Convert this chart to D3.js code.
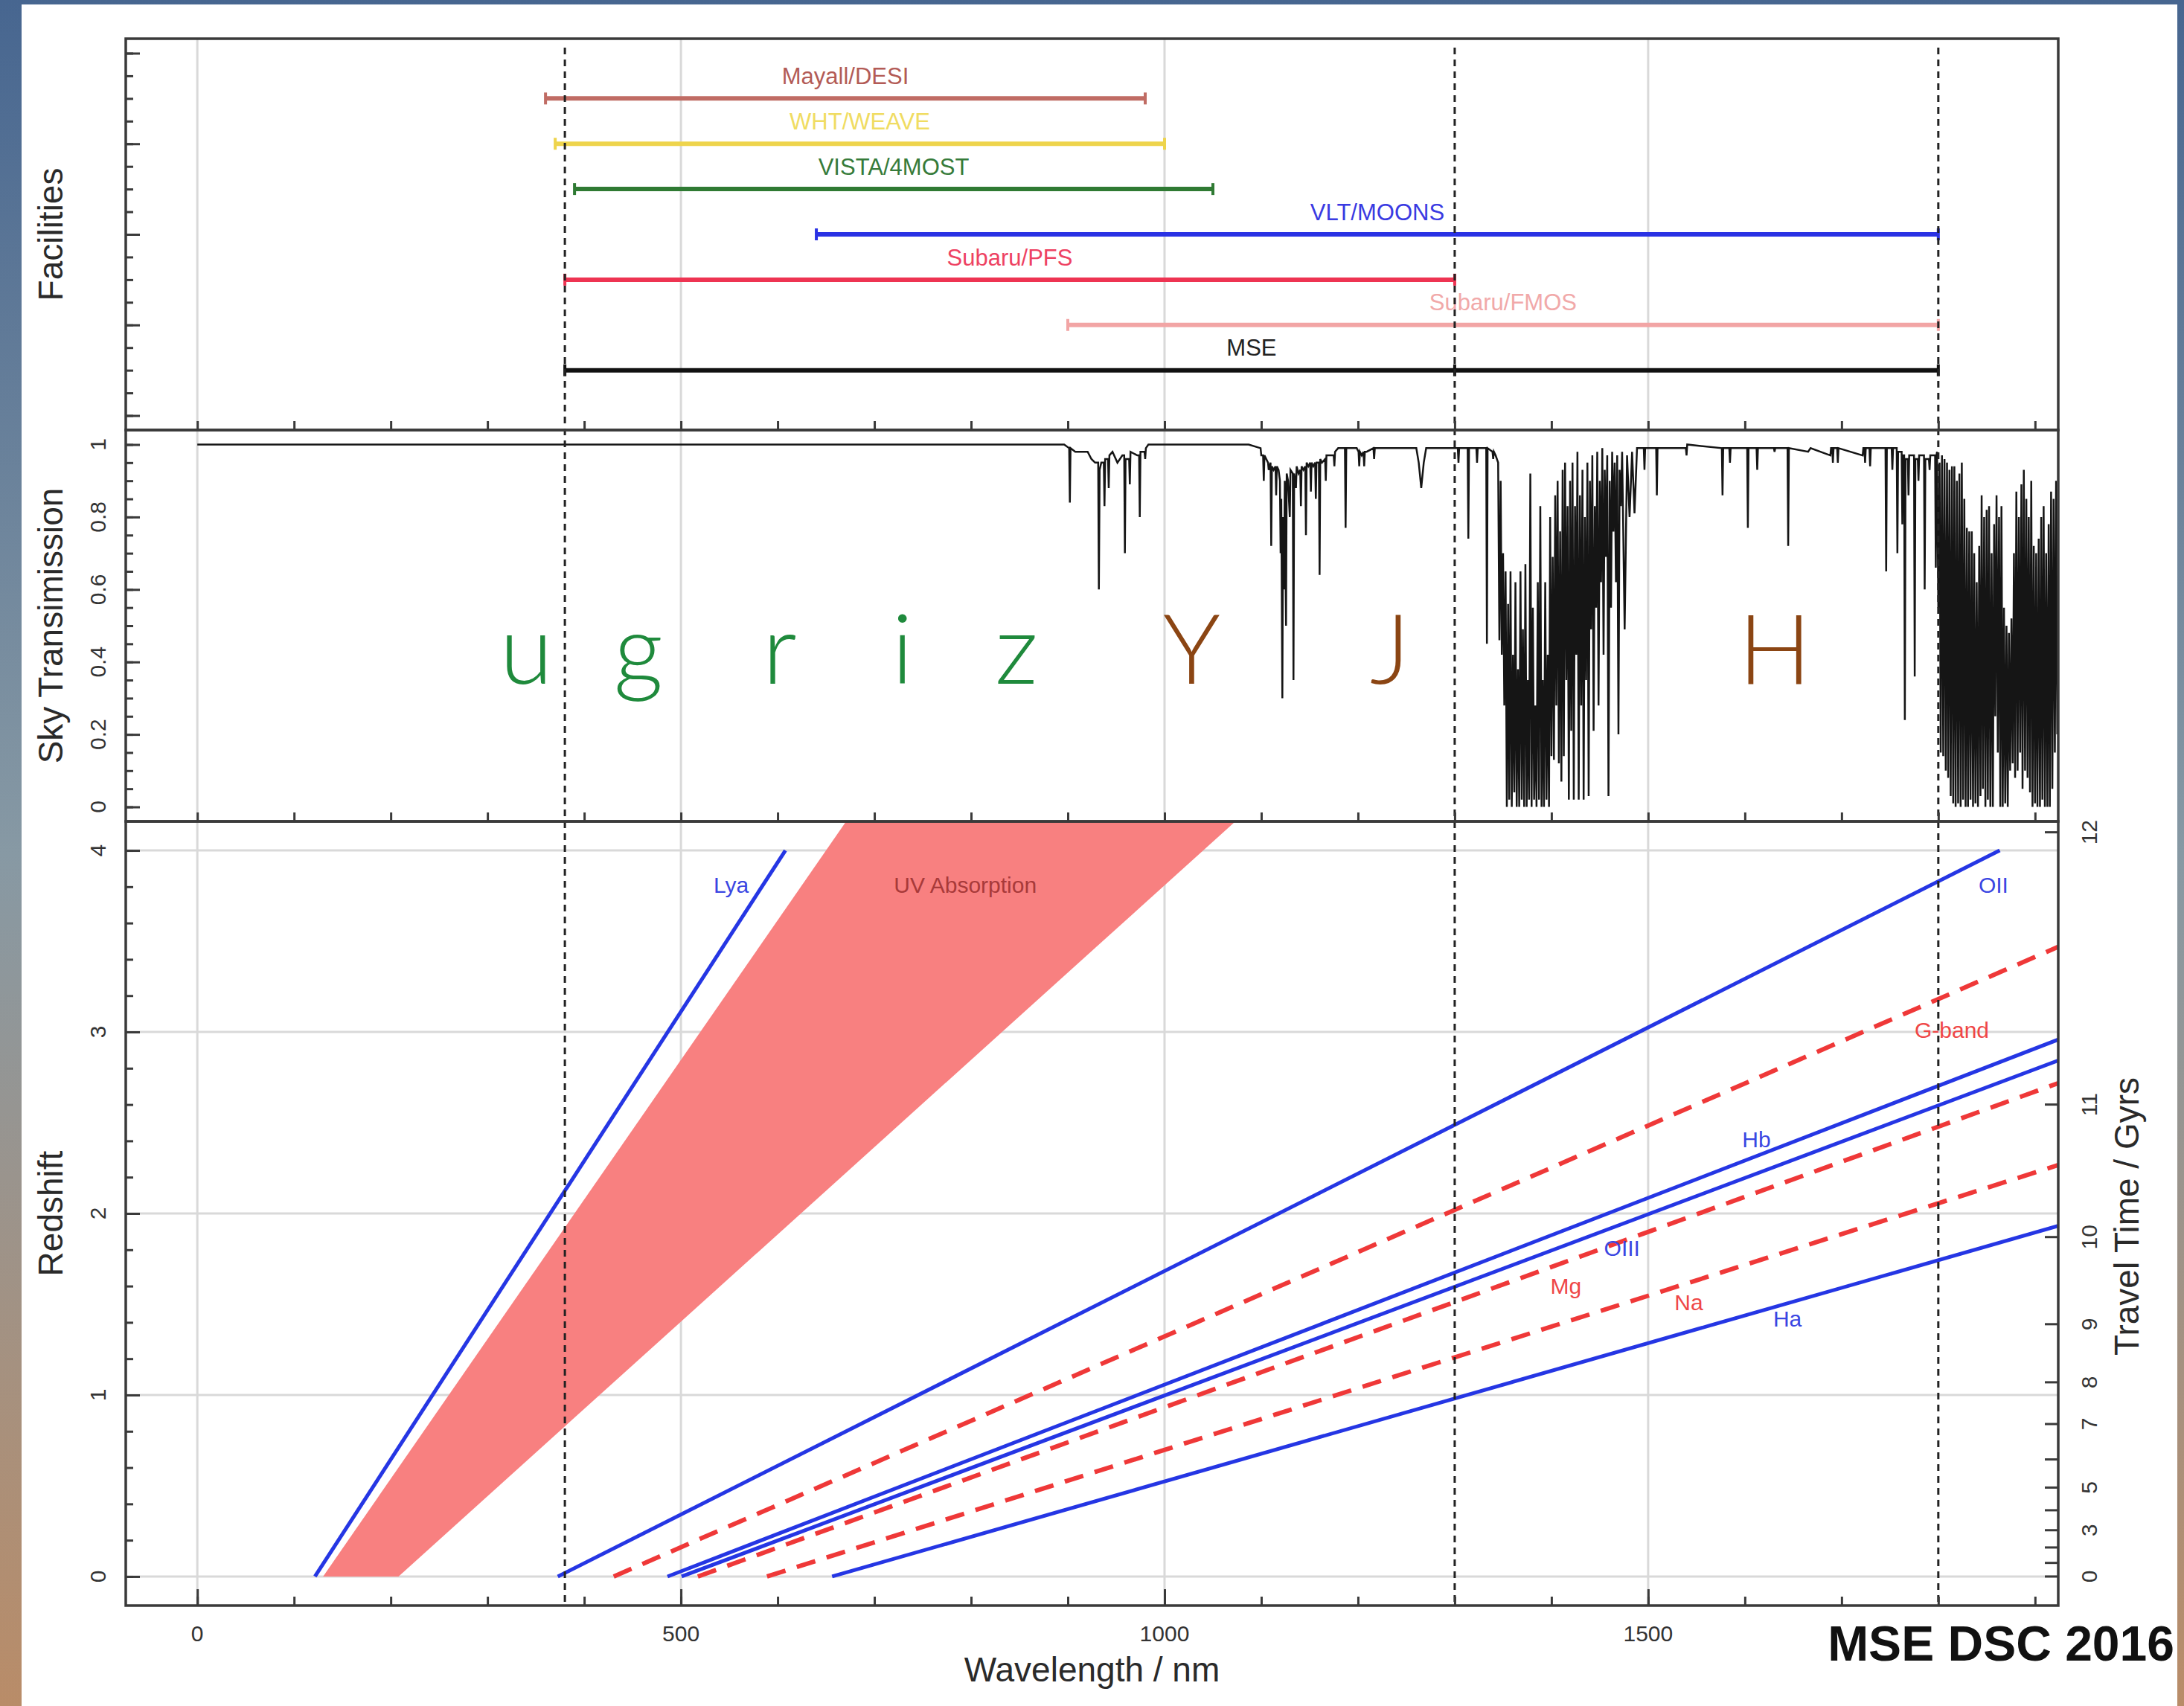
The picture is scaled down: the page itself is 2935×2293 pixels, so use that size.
<!DOCTYPE html>
<html><head><meta charset="utf-8">
<script src="https://cdn.jsdelivr.net/npm/d3@7/dist/d3.min.js"></script>
<style>body{margin:0;background:#fff} text{font-family:"Liberation Sans",Arial,Helvetica,sans-serif}</style>
</head><body>
<svg id="chart" width="2935" height="2293"></svg>
<script>
// ---------------- DATA ----------------
const wavelengthRange = [0, 1850];
const wavelengthMajorTicks = [0, 500, 1000, 1500];
const wavelengthMinorTicks = [0,100,200,300,400,500,600,700,800,900,1000,1100,1200,1300,1400,1500,1600,1700,1800,1900];
const mseBoundaries = [380, 1300, 1800];

const facilities = ["Mayall/DESI","WHT/WEAVE","VISTA/4MOST","VLT/MOONS","Subaru/PFS","Subaru/FMOS","MSE"];
const facilityMin = [360, 370, 390, 640, 380, 900, 380];
const facilityMax = [980, 1000, 1050, 1800, 1300, 1800, 1800];
const facilityBreak = [null, null, null, null, null, null, 1300];
const facilityRow = [14, 12, 10, 8, 6, 4, 2];
const facilityAxisRange = [0, 16];

const bandLetters = ["u","g","r","i","z","Y","J","H"];
const bandCentres = [340, 456, 602, 729, 847, 1028, 1233, 1631];
const bandGroup = ["opt","opt","opt","opt","opt","nir","nir","nir"];
const bandLabelLevel = 0.34;

const transmissionRange = [0, 1];
const transmissionTicks = [0, 0.2, 0.4, 0.6, 0.8, 1];
const skyTransmission = [
[0,1.0],[869,1.0],[896.2,1.0],[901.4,0.99],[902.1,0.84],[902.8,0.99],[907.7,0.98],[920.5,0.98],[924.4,0.96],[928.2,0.95],[931.4,0.95],[932.1,0.60],[932.9,0.93],[934.6,0.95],[937.2,0.95],[937.9,0.83],[938.6,0.96],[941.6,0.96],[942.3,0.88],[943.0,0.97],[946.2,0.98],[951.3,0.95],[956.4,0.97],[958.3,0.97],[959.0,0.70],[959.7,0.96],[963.4,0.96],[964.1,0.89],[964.8,0.98],[971.8,0.97],[973.7,0.97],[974.4,0.80],[975.1,0.98],[979.3,0.98],[980.0,0.96],[980.7,0.99],[983.3,1.0],
[1087,1.0],[1099.3,0.99],[1100.0,0.97],[1101.9,0.97],[1102.6,0.90],[1103.3,0.97],[1107.0,0.95],[1107.7,0.93],[1109.6,0.95],[1110.3,0.72],[1111.0,0.94],[1112.8,0.93],[1114.7,0.94],[1115.4,0.86],[1116.1,0.94],[1117.9,0.93],[1119.3,0.90],[1120.0,0.70],[1120.7,0.85],[1121.8,0.30],[1122.5,0.80],[1123.6,0.60],[1124.3,0.90],[1125.6,0.50],[1126.3,0.92],[1127.7,0.90],[1129.5,0.80],[1130.2,0.93],[1132.6,0.92],[1133.3,0.35],[1134.0,0.92],[1135.9,0.88],[1136.6,0.94],[1138.5,0.92],[1140.3,0.93],[1141.0,0.83],[1141.7,0.94],[1143.6,0.93],[1145.5,0.94],[1146.2,0.75],[1146.9,0.95],[1148.7,0.94],[1150.6,0.95],[1151.3,0.87],[1152.0,0.95],[1153.8,0.94],[1155.7,0.95],[1156.4,0.85],[1157.1,0.95],[1159.6,0.95],[1160.3,0.64],[1161.0,0.96],[1162.8,0.95],[1166.0,0.96],[1166.7,0.90],[1167.4,0.97],[1170.5,0.97],[1174.9,0.97],[1175.6,0.94],[1176.3,0.98],[1179.5,0.99],[1186.5,0.99],[1187.2,0.77],[1187.9,0.99],[1189.7,0.99],
[1198.7,0.99],[1200.6,0.98],[1201.3,0.94],[1202.0,0.98],[1203.9,0.97],[1205.7,0.98],[1206.4,0.94],[1207.1,0.98],[1209.0,0.98],[1216.0,0.99],[1216.7,0.96],[1217.4,0.99],[1260.3,0.99],[1262.8,0.95],[1265.4,0.88],[1268.0,0.95],[1270.5,0.99],[1303.2,0.99],[1303.9,0.95],[1304.6,0.99],[1313.4,0.99],[1314.1,0.74],[1314.8,0.99],[1322.4,0.99],[1323.1,0.95],[1323.8,0.99],[1332.6,0.99],[1333.3,0.45],[1334.0,0.99],[1339.1,0.98],[1339.8,0.96],[1340.5,0.98],
[1342.3,0.97],[1344.9,0.95],[1346.2,0.46],[1347.5,0.90],[1348.7,0.42],[1350.0,0.70],[1351.3,0.28],[1352.6,0.65],[1353.9,0.00],[1355.2,0.56],[1356.4,0.02],[1357.7,0.65],[1359.0,0.00],[1360.3,0.42],[1361.6,0.04],[1362.8,0.62],[1364.1,0.00],[1365.4,0.38],[1366.7,0.00],[1368.0,0.65],[1369.3,0.02],[1370.5,0.49],[1371.8,0.00],[1373.1,0.67],[1374.4,0.00],[1375.7,0.35],[1376.9,0.02],[1378.2,0.92],[1379.5,0.00],[1380.8,0.55],[1382.1,0.02],[1383.4,0.28],[1384.6,0.00],[1385.9,0.62],[1387.2,0.02],[1388.5,0.83],[1389.8,0.00],[1391.0,0.35],[1392.3,0.00],[1393.6,0.62],[1394.9,0.02],[1396.2,0.42],[1397.5,0.00],[1398.7,0.80],[1400.0,0.14],[1401.3,0.69],[1402.6,0.13],[1403.9,0.86],[1405.1,0.28],[1406.4,0.90],[1407.7,0.12],[1409.0,0.76],[1410.3,0.07],[1411.6,0.93],[1412.8,0.14],[1414.1,0.95],[1415.4,0.35],[1416.7,0.83],[1418.0,0.02],[1419.3,0.90],[1420.5,0.21],[1421.8,0.95],[1423.1,0.02],[1424.4,0.83],[1425.7,0.42],[1426.9,0.98],[1428.2,0.02],[1429.5,0.86],[1430.8,0.28],[1432.1,0.93],[1433.3,0.02],[1434.6,0.80],[1435.9,0.35],[1437.2,0.95],[1438.5,0.03],[1439.8,0.90],[1441.0,0.49],[1442.3,0.97],[1443.6,0.21],[1444.9,0.83],[1446.2,0.55],[1447.4,0.98],[1448.7,0.28],[1450.0,0.90],[1451.3,0.62],[1452.6,0.99],[1453.9,0.42],[1455.1,0.93],[1456.4,0.69],[1457.7,0.97],[1459.0,0.03],[1460.3,0.90],[1461.6,0.55],[1462.8,0.98],[1464.1,0.76],[1465.4,0.95],[1466.7,0.62],[1468.0,0.97],[1469.3,0.20],[1470.5,0.93],[1471.8,0.83],[1473.1,0.98],[1475.7,0.49],[1478.2,0.97],[1480.8,0.80],[1483.4,0.98],[1485.9,0.81],[1488.5,0.99],[1495.5,0.99],[1496.2,0.93],[1496.9,0.99],[1501.3,0.99],[1508.3,0.99],[1509.0,0.86],[1509.7,0.99],[1524.4,0.99],
[1526.9,0.99],[1539.0,0.99],[1539.7,0.97],[1540.4,1.0],[1576.2,0.99],[1576.9,0.86],[1577.6,0.99],[1583.9,0.99],[1584.6,0.95],[1585.3,0.99],[1602.4,0.99],[1603.1,0.77],[1603.8,0.99],[1612.1,0.99],[1612.8,0.93],[1613.5,0.99],[1630.0,0.99],[1630.7,0.98],[1631.4,0.99],[1644.1,0.99],[1644.8,0.72],[1645.5,0.99],[1665.4,0.98],[1667.9,0.99],[1688.4,0.97],[1689.1,0.99],[1690.3,0.99],[1691.0,0.95],[1691.7,0.99],[1695.4,0.99],[1696.1,0.95],[1696.8,0.99],[1721.8,0.97],[1722.5,0.99],[1723.6,0.99],[1724.3,0.95],[1725.0,0.99],[1728.8,0.99],[1729.5,0.94],[1730.2,0.99],[1745.4,0.99],[1746.1,0.65],[1746.8,0.99],[1751.8,0.99],[1752.5,0.93],[1753.2,0.99],[1757.0,0.99],[1757.7,0.70],[1758.4,0.98],[1762.1,0.98],[1762.8,0.78],[1763.5,0.97],[1764.7,0.97],[1765.4,0.24],[1766.1,0.96],[1768.5,0.96],[1769.2,0.86],[1769.9,0.97],[1774.9,0.97],[1775.6,0.36],[1776.3,0.96],[1778.8,0.96],[1779.5,0.90],[1780.2,0.97],[1785.2,0.97],[1785.9,0.60],[1786.6,0.96],[1790.3,0.96],[1791.0,0.93],[1791.7,0.97],[1796.7,0.97],[1797.4,0.66],[1798.1,0.97],
[1798.7,0.98],[1800.0,0.55],[1801.3,0.95],[1802.5,0.15],[1803.8,0.97],[1805.1,0.14],[1806.4,0.96],[1807.7,0.10],[1809.0,0.95],[1810.2,0.08],[1811.5,0.93],[1812.8,0.03],[1814.1,0.94],[1815.4,0.01],[1816.6,0.94],[1817.9,0.00],[1819.2,0.90],[1820.5,0.01],[1821.8,0.92],[1823.1,0.00],[1824.3,0.95],[1825.6,0.02],[1826.9,0.85],[1828.2,0.00],[1829.5,0.77],[1830.7,0.00],[1832.0,0.76],[1833.3,0.02],[1834.6,0.76],[1835.9,0.00],[1837.1,0.70],[1838.4,0.01],[1839.7,0.62],[1841.0,0.00],[1842.3,0.72],[1843.6,0.03],[1844.8,0.86],[1846.1,0.05],[1847.4,0.80],[1848.7,0.00],[1850.0,0.82],[1851.2,0.02],[1852.5,0.83],[1853.8,0.00],[1855.1,0.70],[1856.4,0.00],[1857.7,0.78],[1858.9,0.25],[1860.2,0.86],[1861.5,0.15],[1862.8,0.80],[1864.1,0.00],[1865.3,0.83],[1866.6,0.00],[1867.9,0.55],[1869.2,0.01],[1870.5,0.50],[1871.8,0.00],[1873.0,0.48],[1874.3,0.10],[1875.6,0.52],[1876.9,0.12],[1878.2,0.70],[1879.4,0.08],[1880.7,0.87],[1882.0,0.10],[1883.3,0.80],[1884.6,0.15],[1885.9,0.89],[1887.1,0.05],[1888.4,0.93],[1889.7,0.10],[1891.0,0.85],[1892.3,0.08],[1893.5,0.80],[1894.8,0.04],[1896.1,0.90],[1897.4,0.00],[1898.7,0.72],[1900.0,0.01],[1901.2,0.70],[1902.5,0.00],[1903.8,0.74],[1905.1,0.00],[1906.4,0.80],[1907.6,0.02],[1908.9,0.83],[1910.2,0.00],[1911.5,0.70],[1912.8,0.00],[1914.1,0.78],[1915.3,0.00],[1916.6,0.87],[1917.9,0.05],[1919.2,0.85],[1920.5,0.15],[1921.8,0.90],[1923.0,0.20],[1925,0.88]
];

const redshiftRange = [0, 4];
const redshiftTicks = [0, 1, 2, 3, 4];
const emissionNames = ["Lya","OII","Hb","OIII","Ha"];
const emissionRest = [121.6, 372.7, 486.1, 500.7, 656.3];
const emissionLabelAt = [[552,3.81],[1857,3.81],[1612,2.41],[1473,1.81],[1644,1.42]];
const absorptionNames = ["G-band","Mg","Na"];
const absorptionRest = [430.5, 517.5, 589.0];
const absorptionLabelAt = [[1814,3.01],[1415,1.60],[1542,1.51]];
const uvAbsorptionRest = [130, 208];
const uvAbsorptionLabel = "UV Absorption";
const uvAbsorptionLabelAt = [794, 3.81];
const lineMaxRedshift = 4;

const travelTimeTicks = [0,1,2,3,4,5,6,7,8,9,10,11,12];
const travelTimeRedshift = [0,0.075,0.16,0.255,0.365,0.49,0.645,0.84,1.07,1.39,1.87,2.6,4.1];
const travelTimeLabelled = [0,3,5,7,8,9,10,11,12];

// ---------------- STYLE ----------------
const style = {
  facilityLine: ["#c06c64","#eed44c","#2f7a33","#2a32e4","#ee3452","#f2a5a5","#111111"],
  facilityText: ["#b35b56","#f0dc62","#367b3a","#3a3ae2","#ee4262","#f1a9a9","#222222"],
  band: {opt:"#1f8a3c", nir:"#8b4513"},
  blue: "#2536e4", red: "#ef3838", uv: "#f88080",
  blueText: "#3a46e2", redText: "#ef4747", uvText: "#a83a3a",
  grid: "#d9d9d9", frame: "#3a3a3a"
};

// ---------------- LAYOUT ----------------
const W = 2935, H = 2293;
const L = 169, R = 2766;
const P = {fac:[52,578], sky:[578,1104], z:[1104,2158]};
const pad = (r) => { const p = 0.04*(r[1]-r[0]); return [r[0]-p, r[1]+p]; };

const x = d3.scaleLinear().domain(pad(wavelengthRange)).range([L, R]);
const yFac = d3.scaleLinear().domain(pad(facilityAxisRange)).range([P.fac[1], P.fac[0]]);
const ySky = d3.scaleLinear().domain(pad(transmissionRange)).range([P.sky[1], P.sky[0]]);
const yZ = d3.scaleLinear().domain(pad(redshiftRange)).range([P.z[1], P.z[0]]);

const svg = d3.select("#chart");
const defs = svg.append("defs");
const g = defs.append("linearGradient").attr("id","bg").attr("x1",0).attr("y1",0).attr("x2",0).attr("y2",1);
g.append("stop").attr("offset","0%").attr("stop-color","#476690");
g.append("stop").attr("offset","50%").attr("stop-color","#8799a4");
g.append("stop").attr("offset","100%").attr("stop-color","#b98c68");
svg.append("rect").attr("width",W).attr("height",H).attr("fill","url(#bg)");
svg.append("rect").attr("x",29).attr("y",6).attr("width",2897).attr("height",H-6).attr("fill","#fff");

Object.entries(P).forEach(([k,[t,b]]) => {
  defs.append("clipPath").attr("id","clip-"+k).append("rect")
    .attr("x",L).attr("y",t).attr("width",R-L).attr("height",b-t);
});

// grid
Object.entries(P).forEach(([k,[t,b]]) => {
  svg.append("g").selectAll("line").data(wavelengthMajorTicks).join("line")
    .attr("x1",d=>x(d)).attr("x2",d=>x(d)).attr("y1",t).attr("y2",b)
    .attr("stroke",style.grid).attr("stroke-width",3);
});
svg.append("g").selectAll("line").data(redshiftTicks).join("line")
  .attr("x1",L).attr("x2",R).attr("y1",d=>yZ(d)).attr("y2",d=>yZ(d))
  .attr("stroke",style.grid).attr("stroke-width",3);

// ---------- Facilities ----------
const fac = svg.append("g").attr("clip-path","url(#clip-fac)");
facilities.forEach((name,i) => {
  const y = yFac(facilityRow[i]);
  fac.append("line").attr("x1",x(facilityMin[i])).attr("x2",x(facilityMax[i]))
    .attr("y1",y).attr("y2",y).attr("stroke",style.facilityLine[i]).attr("stroke-width",6);
  const caps = [facilityMin[i], facilityMax[i]].concat(facilityBreak[i]!=null?[facilityBreak[i]]:[]);
  caps.forEach(c => fac.append("line").attr("x1",x(c)).attr("x2",x(c)).attr("y1",y-8).attr("y2",y+8)
    .attr("stroke",style.facilityLine[i]).attr("stroke-width",4));
  fac.append("text").attr("x",x((facilityMin[i]+facilityMax[i])/2)).attr("y",yFac(facilityRow[i]+1))
    .attr("dy","0.36em").attr("text-anchor","middle").attr("font-size",31)
    .attr("fill",style.facilityText[i]).text(name);
});

// ---------- Sky transmission ----------
const sky = svg.append("g").attr("clip-path","url(#clip-sky)");
bandLetters.forEach((b,i) => {
  sky.append("text").attr("x",x(bandCentres[i])).attr("y",ySky(bandLabelLevel))
    .attr("text-anchor","middle").attr("font-size",130)
    .style("font-family","Lato, 'Open Sans', Roboto, sans-serif").style("font-weight",300)
    .attr("fill",style.band[bandGroup[i]]).text(b);
});
sky.append("path").datum(skyTransmission)
  .attr("d", d3.line().x(d=>x(d[0])).y(d=>ySky(d[1])))
  .attr("fill","none").attr("stroke","#151515").attr("stroke-width",2.5).attr("stroke-linejoin","miter");

// ---------- Redshift panel ----------
const zp = svg.append("g").attr("clip-path","url(#clip-z)");
const zLine = d3.line().x(d=>x(d[0])).y(d=>yZ(d[1]));
const zTop = 4.6;
const uvPoly = [[uvAbsorptionRest[0],0],[uvAbsorptionRest[1],0],[uvAbsorptionRest[1]*(1+zTop),zTop],[uvAbsorptionRest[0]*(1+zTop),zTop]];
zp.append("path").datum(uvPoly).attr("d", d => zLine(d) + "Z")
  .attr("fill",style.uv).attr("stroke","none");
absorptionRest.forEach(l => {
  zp.append("path").datum([[l,0],[l*(1+lineMaxRedshift),lineMaxRedshift]]).attr("d",zLine)
    .attr("stroke",style.red).attr("stroke-width",6).attr("stroke-dasharray","26,16").attr("fill","none");
});
emissionRest.forEach(l => {
  zp.append("path").datum([[l,0],[l*(1+lineMaxRedshift),lineMaxRedshift]]).attr("d",zLine)
    .attr("stroke",style.blue).attr("stroke-width",5).attr("fill","none");
});
const lbl = (t,p,c) => zp.append("text").attr("x",x(p[0])).attr("y",yZ(p[1])).attr("dy","0.36em")
  .attr("text-anchor","middle").attr("font-size",30).attr("fill",c).text(t);
lbl(uvAbsorptionLabel, uvAbsorptionLabelAt, style.uvText);
emissionNames.forEach((n,i)=>lbl(n, emissionLabelAt[i], style.blueText));
absorptionNames.forEach((n,i)=>lbl(n, absorptionLabelAt[i], style.redText));

// ---------- MSE boundaries ----------
svg.append("g").selectAll("line").data(mseBoundaries).join("line")
  .attr("x1",d=>x(d)).attr("x2",d=>x(d)).attr("y1",P.fac[0]+12).attr("y2",P.z[1])
  .attr("stroke","#222").attr("stroke-width",3).attr("stroke-dasharray","9,7");

// ---------- Axes ----------
const styleAxis = (sel) => { sel.select(".domain").remove(); sel.selectAll(".tick line").attr("stroke",style.frame).attr("stroke-width",3); sel.selectAll(".tick text").remove(); };
Object.entries(P).forEach(([k,[t,b]]) => {
  svg.append("g").attr("transform",`translate(0,${b})`)
    .call(d3.axisTop(x).tickValues(wavelengthMinorTicks).tickSize(12)).call(styleAxis);
});
svg.append("g").attr("transform",`translate(0,${P.z[1]})`)
  .call(d3.axisTop(x).tickValues(wavelengthMajorTicks).tickSize(22)).call(styleAxis);
svg.append("g").selectAll("text").data(wavelengthMajorTicks).join("text")
  .attr("x",d=>x(d)).attr("y",2206).attr("text-anchor","middle").attr("font-size",30).attr("fill","#333").text(d=>d);

// left axes
const leftAxis = (scale, minor, major, labels) => {
  svg.append("g").attr("transform",`translate(${L},0)`)
    .call(d3.axisRight(scale).tickValues(minor).tickSize(10)).call(styleAxis);
  svg.append("g").attr("transform",`translate(${L},0)`)
    .call(d3.axisRight(scale).tickValues(major).tickSize(19)).call(styleAxis);
  if (labels) svg.append("g").selectAll("text").data(major).join("text")
    .attr("transform",d=>`translate(131,${scale(d)}) rotate(-90)`).attr("dy","0.36em")
    .attr("text-anchor","middle").attr("font-size",30).attr("fill","#333").text(d=>d3.format("~g")(d));
};
leftAxis(yFac, d3.range(facilityAxisRange[0], facilityAxisRange[1]+1, 1), d3.range(facilityAxisRange[0], facilityAxisRange[1]+1, 4), false);
leftAxis(ySky, d3.range(0, 1.0001, 0.05).map(v=>+v.toFixed(2)), transmissionTicks, true);
leftAxis(yZ, d3.range(0, 4.0001, 0.2).map(v=>+v.toFixed(1)), redshiftTicks, true);

// right axis (travel time)
const tt = svg.append("g");
tt.selectAll("line").data(travelTimeRedshift).join("line")
  .attr("x1",R-18).attr("x2",R).attr("y1",d=>yZ(d)).attr("y2",d=>yZ(d))
  .attr("stroke",style.frame).attr("stroke-width",3);
tt.selectAll("text").data(travelTimeTicks.filter(t=>travelTimeLabelled.includes(t))).join("text")
  .attr("transform",d=>`translate(2807,${yZ(travelTimeRedshift[travelTimeTicks.indexOf(d)])}) rotate(-90)`)
  .attr("dy","0.36em").attr("text-anchor","middle").attr("font-size",30).attr("fill","#333").text(d=>d);

// frames
Object.values(P).forEach(([t,b]) => {
  svg.append("rect").attr("x",L).attr("y",t).attr("width",R-L).attr("height",b-t)
    .attr("fill","none").attr("stroke",style.frame).attr("stroke-width",3.5);
});

// titles
const title = (t,cx,cy,rot) => svg.append("text")
  .attr("transform",`translate(${cx},${cy})`+(rot?" rotate(-90)":"")).attr("dy",rot?"0.36em":0)
  .attr("text-anchor","middle").attr("font-size",46).attr("fill","#2a2a2a").text(t);
title("Facilities", 67, (P.fac[0]+P.fac[1])/2, true);
title("Sky Transimission", 67, (P.sky[0]+P.sky[1])/2, true);
title("Redshift", 67, (P.z[0]+P.z[1])/2, true);
title("Travel Time / Gyrs", 2857, 1635, true);
title("Wavelength / nm", (L+R)/2, 2260, false);

svg.append("text").attr("x",2922).attr("y",2232).attr("text-anchor","end")
  .attr("font-size",66).attr("font-weight","bold").attr("fill","#111").text("MSE DSC 2016");
</script>
</body></html>
